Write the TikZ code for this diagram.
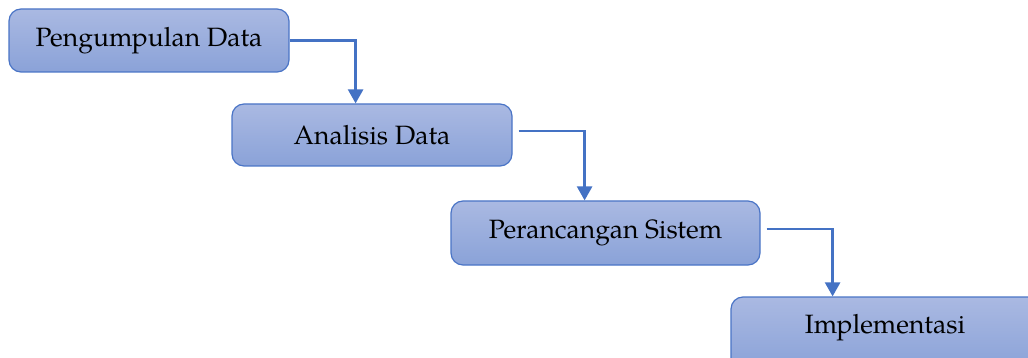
\documentclass[tikz,border=0pt]{standalone}
\usepackage{fontspec}
\setmainfont{TeX Gyre Pagella}
\usetikzlibrary{arrows.meta}
\definecolor{boxtop}{HTML}{AAB9E2}
\definecolor{boxbot}{HTML}{8AA2D8}
\definecolor{boxline}{HTML}{4A74C6}
\definecolor{arrcol}{HTML}{4472C4}
\tikzset{
  stepbox/.style={draw=boxline, line width=1.2pt, rounded corners=12pt,
    top color=boxtop, bottom color=boxbot, inner sep=0pt,
    font=\fontsize{26.5}{30}\selectfont, text=black},
  arr/.style={draw=arrcol, line width=2.6pt,
    -{Triangle[width=15pt,length=14pt]}}
}
\begin{document}
\begin{tikzpicture}[x=1pt,y=-1pt]
\useasboundingbox (0,0) rectangle (1028,358);
\clip (0,0) rectangle (1028,358);
\node[stepbox, minimum width=280pt, minimum height=63pt] (b1) at (149,40.5) {Pengumpulan Data};
\node[stepbox, minimum width=280pt, minimum height=62pt] (b2) at (372,135) {Analisis Data};
\node[stepbox, minimum width=309pt, minimum height=64pt] (b3) at (605.5,233) {Perancangan Sistem};
\node[stepbox, minimum width=309pt, minimum height=73pt] (b4) at (885.5,333.5) {};
\node[font=\fontsize{26.5}{30}\selectfont] (t4) at (885,328) {Implementasi};
\draw[arr] (b1.east) -- ++(66,0) coordinate (c1) -- (c1 |- b2.north);
\draw[arr] ([xshift=6pt,yshift=4pt]b2.east) -- ++(66,0) coordinate (c2) -- (c2 |- b3.north);
\draw[arr] ([xshift=6pt,yshift=4pt]b3.east) -- ++(66,0) coordinate (c3) -- (c3 |- b4.north);
\end{tikzpicture}
\end{document}
